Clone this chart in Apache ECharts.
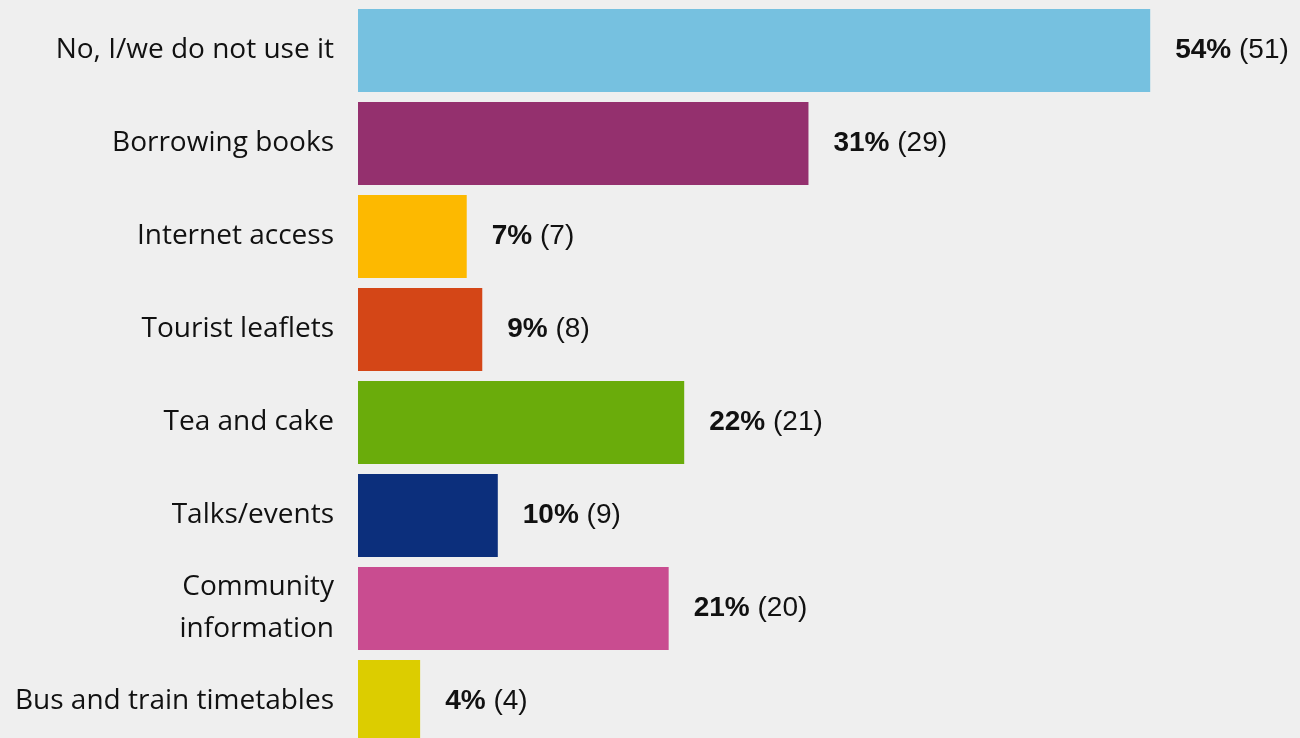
<!DOCTYPE html>
<html>
<head>
<meta charset="utf-8">
<script src="https://cdn.jsdelivr.net/npm/echarts@6/dist/echarts.min.js"></script>
<style>
  html, body { margin: 0; padding: 0; background: #efefef; }
  #chart { width: 1300px; height: 738px; }
</style>
</head>
<body>
<div id="chart"></div>
<script>
// categories top to bottom
const categories = [
  'No, I/we do not use it',
  'Borrowing books',
  'Internet access',
  'Tourist leaflets',
  'Tea and cake',
  'Talks/events',
  'Community\ninformation',
  'Bus and train timetables'
]
// respondent counts (bar length) and shown percentages
const counts = [51, 29, 7, 8, 21, 9, 20, 4]
const percents = [54, 31, 7, 9, 22, 10, 21, 4]
const colors = ['#76c1e0', '#94306e', '#fdb900', '#d44617', '#6aac0b', '#0c2f7c', '#c94c90', '#dccd00']

const chart = echarts.init(document.getElementById('chart'))

const data = counts.map((v, i) => ({
  value: v,
  itemStyle: { color: colors[i] },
  label: { formatter: `{b|${percents[i]}%} (${v})` }
}))

chart.setOption({
  backgroundColor: '#efefef',
  animation: false,
  grid: { left: 358, top: 4, height: 744, right: 10, outerBoundsMode: 'none' },
  xAxis: {
    type: 'value',
    min: 0,
    max: 60,
    show: false
  },
  yAxis: {
    type: 'category',
    data: categories,
    inverse: true,
    axisLine: { show: false },
    axisTick: { show: false },
    axisLabel: {
      margin: 24,
      fontFamily: 'Open Sans',
      fontSize: 28,
      lineHeight: 42,
      color: '#111',
      align: 'right'
    }
  },
  series: [{
    type: 'bar',
    data,
    barCategoryGap: '10.7%',
    label: {
      show: true,
      position: 'right',
      distance: 25,
      fontFamily: 'Liberation Sans',
      fontSize: 28,
      color: '#111',
      rich: {
        b: { fontFamily: 'Liberation Sans', fontSize: 28, fontWeight: 'bold', color: '#111' }
      }
    }
  }]
})
</script>
</body>
</html>
